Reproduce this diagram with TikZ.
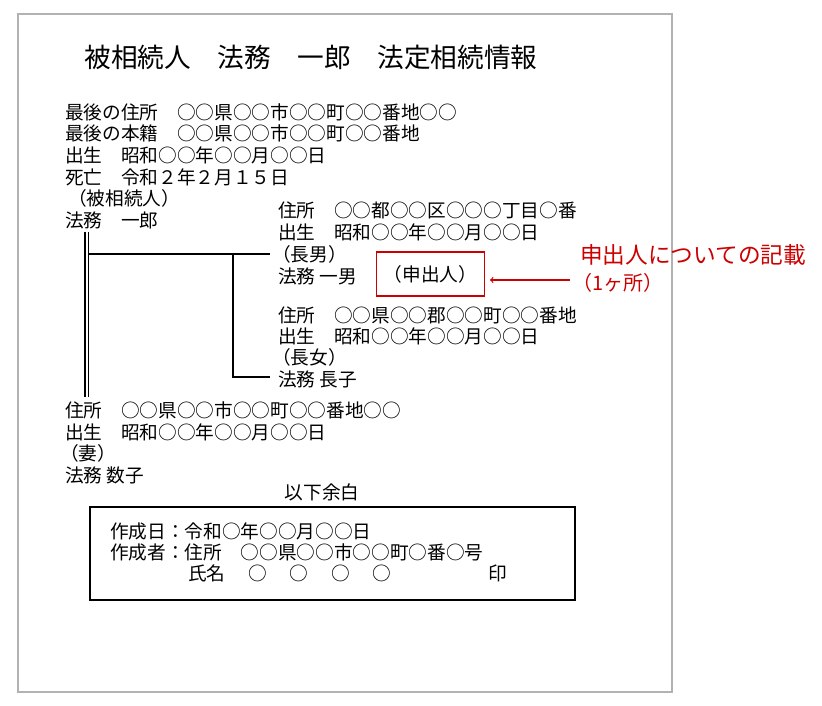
\documentclass[tikz,border=0pt]{standalone}
\usepackage{fontspec}
\setmainfont{Noto Sans CJK JP}
\begin{document}
\begin{tikzpicture}[x=0.75pt,y=-0.75pt,
  t/.style={anchor=west,inner sep=0pt,font=\fontsize{14}{16}\selectfont},
  rt/.style={t,text=red!80!black},
  ln/.style={line width=0.8pt}]
\useasboundingbox (0,0) rectangle (822,706);
\draw[gray!60,line width=1pt] (18,14) rectangle (672,692);
\node[inner sep=0pt,font=\fontsize{20}{22}\selectfont] (title) at (311,57) {被相続人\quad 法務\quad 一郎\quad 法定相続情報};
\node[t] (a1) at (65,112) {最後の住所\quad ○○県○○市○○町○○番地○○};
\node[t] (a2) at (65,133) {最後の本籍\quad ○○県○○市○○町○○番地};
\node[t] (a3) at (65,155) {出生\quad 昭和○○年○○月○○日};
\node[t] (a4) at (65,177) {死亡\quad 令和２年２月１５日};
\node[t] (a5) at (68,198) {（被相続人）};
\node[t] (a6) at (65,220) {法務\quad 一郎};
\node[t] (b1) at (278,210) {住所\quad ○○都○○区○○○丁目○番};
\node[t] (b2) at (278,232) {出生\quad 昭和○○年○○月○○日};
\node[t] (b3) at (272,254) {（長男）};
\node[t] (b4) at (278,276) {法務 一男};
\node[t,draw=red!80!black,line width=0.8pt,minimum width=81pt,minimum height=33pt,inner xsep=5pt] (box) at (376,274) {（申出人）};
\node[rt,font=\fontsize{17}{19}\selectfont] (n1) at (580,255) {申出人についての記載};
\node[rt,font=\fontsize{15}{17}\selectfont] (n2) at (572,283) {（1ヶ所）};
\coordinate (ar) at (570,280);
\coordinate (at) at (490,280);
\draw[red!80!black,line width=0.8pt,->] (ar) -- (at);
\node[t] (c1) at (278,315) {住所\quad ○○県○○郡○○町○○番地};
\node[t] (c2) at (278,336) {出生\quad 昭和○○年○○月○○日};
\node[t] (c3) at (272,357) {（長女）};
\node[t] (c4) at (278,379) {法務 長子};
\node[t] (d1) at (65,410) {住所\quad ○○県○○市○○町○○番地○○};
\node[t] (d2) at (65,432) {出生\quad 昭和○○年○○月○○日};
\node[t] (d3) at (60,453) {（妻）};
\node[t] (d4) at (65,475) {法務\ 数子};
\node[t,anchor=center] (end) at (322,492) {以下余白};
\draw[ln] (90,507) rectangle (575,600);
\node[t] (e1) at (110,531) {作成日：令和○年○○月○○日};
\node[t] (e2) at (110,552) {作成者：住所\quad ○○県○○市○○町○番○号};
\node[t] (e3) at (188,573) {氏名\quad\ ○\quad\ ○\quad\ ○\quad\ ○};
\node[t] (e4) at (488,573) {印};
% tree
\draw[ln] (85,232) -- (85,397);
\draw[ln] (88.5,232) -- (88.5,397);
\coordinate (j1) at (233,254);
\coordinate (j2) at (233,377);
\draw[ln] (88.5,254) -- (270,254);
\draw[ln] (j1) -- (j2) -- (270,377);
\end{tikzpicture}
\end{document}
